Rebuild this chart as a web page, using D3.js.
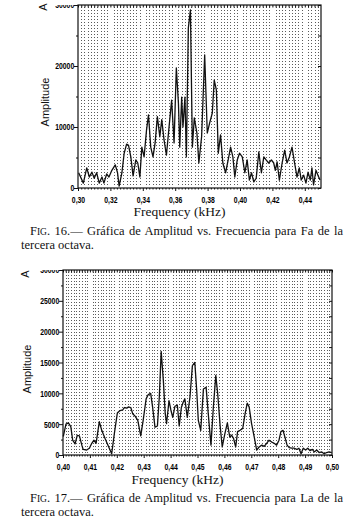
<!DOCTYPE html>
<html>
<head>
<meta charset="utf-8">
<script src="https://cdn.jsdelivr.net/npm/d3@7"></script>
<style>
  body { margin: 0; background: #fff; }
  svg { display: block; }
</style>
</head>
<body>
<svg id="page" width="351" height="521"></svg>
<script>
// Fig. 16 - Fa, tercera octava (frequency in kHz, amplitude)
var faFreq = [0.3004, 0.3033, 0.3054, 0.3070, 0.3086, 0.3100, 0.3115, 0.3131, 0.3148, 0.3160,
  0.3177, 0.3191, 0.3209, 0.3230, 0.3244, 0.3254, 0.3271, 0.3285, 0.3300, 0.3312,
  0.3326, 0.3340, 0.3357, 0.3369, 0.3382, 0.3394, 0.3408, 0.3423, 0.3435, 0.3449,
  0.3463, 0.3476, 0.3490, 0.3505, 0.3517, 0.3531, 0.3546, 0.3562, 0.3578, 0.3593,
  0.3607, 0.3620, 0.3628, 0.3640, 0.3648, 0.3660, 0.3669, 0.3681, 0.3694, 0.3706,
  0.3718, 0.3734, 0.3746, 0.3763, 0.3782, 0.3798, 0.3812, 0.3829, 0.3841, 0.3854,
  0.3866, 0.3880, 0.3894, 0.3911, 0.3927, 0.3942, 0.3956, 0.3968, 0.3983, 0.3997,
  0.4014, 0.4030, 0.4044, 0.4058, 0.4071, 0.4085, 0.4100, 0.4116, 0.4132, 0.4147,
  0.4161, 0.4177, 0.4194, 0.4208, 0.4218, 0.4229, 0.4243, 0.4260, 0.4276, 0.4290,
  0.4305, 0.4321, 0.4337, 0.4352, 0.4366, 0.4378, 0.4393, 0.4407, 0.4420, 0.4434,
  0.4444, 0.4454, 0.4469, 0.4481, 0.4494];
var faAmp = [2500, 800, 3300, 1800, 2600, 1600, 2500, 800, 1800, 800,
  2300, 1800, 2900, 3800, 2500, 300, 2500, 5700, 7200, 7000,
  5100, 2000, 4600, 4100, 1800, 6700, 5100, 9500, 12000, 6700,
  5100, 7400, 11700, 8400, 11200, 7900, 5400, 10000, 14400, 7400,
  19700, 13900, 6700, 14900, 10000, 14900, 5100, 26200, 29200, 6700,
  11500, 9000, 4100, 8400, 21800, 9000, 10600, 12300, 17700, 16100,
  5700, 8700, 4100, 2500, 4600, 6700, 5100, 1800, 4600, 5700,
  5100, 2500, 4600, 1300, 2500, 1000, 1600, 5900, 2500, 5100,
  4600, 4100, 4600, 4100, 2900, 4300, 1300, 4100, 6200, 4100,
  5100, 6700, 4100, 1800, 3300, 1300, 2100, 800, 2600, 1300,
  3300, 500, 2900, 2100, 1300];
var faXTicks = [0.30, 0.32, 0.34, 0.36, 0.38, 0.40, 0.42, 0.44];
var faYTicks = [0, 10000, 20000, 30000];
var faYMinor = [5000, 15000, 25000];

// Fig. 17 - La, tercera octava
var laFreq = [0.4001, 0.4011, 0.4020, 0.4029, 0.4036, 0.4045, 0.4053, 0.4061, 0.4070, 0.4075,
  0.4088, 0.4098, 0.4107, 0.4115, 0.4123, 0.4135, 0.4144, 0.4156, 0.4168, 0.4181,
  0.4191, 0.4202, 0.4212, 0.4222, 0.4228, 0.4237, 0.4243, 0.4252, 0.4259, 0.4268,
  0.4278, 0.4289, 0.4298, 0.4309, 0.4317, 0.4326, 0.4333, 0.4342, 0.4351, 0.4358,
  0.4365, 0.4373, 0.4380, 0.4385, 0.4394, 0.4401, 0.4408, 0.4416, 0.4425, 0.4432,
  0.4440, 0.4447, 0.4453, 0.4462, 0.4472, 0.4481, 0.4490, 0.4497, 0.4503, 0.4512,
  0.4522, 0.4532, 0.4540, 0.4550, 0.4559, 0.4568, 0.4575, 0.4584, 0.4592, 0.4602,
  0.4611, 0.4620, 0.4627, 0.4634, 0.4642, 0.4649, 0.4658, 0.4668, 0.4677, 0.4685,
  0.4692, 0.4701, 0.4711, 0.4720, 0.4729, 0.4739, 0.4748, 0.4757, 0.4766, 0.4776,
  0.4785, 0.4794, 0.4803, 0.4810, 0.4818, 0.4825, 0.4833, 0.4841, 0.4850, 0.4860,
  0.4869, 0.4877, 0.4885, 0.4893, 0.4902, 0.4910, 0.4918, 0.4927, 0.4934, 0.4943,
  0.4952, 0.4962, 0.4971, 0.4980, 0.4989, 0.4999];
var laAmp = [3000, 5000, 5200, 4600, 2400, 1800, 3200, 3100, 1600, 900,
  800, 1100, 1900, 2400, 1900, 5400, 4000, 2700, 1500, 200,
  3500, 6800, 7200, 7300, 7700, 7600, 7800, 7700, 6700, 6300,
  5600, 3100, 5600, 9100, 9800, 10000, 7800, 4500, 4700, 9400,
  16800, 12100, 6700, 5100, 8800, 7300, 6100, 7900, 8100, 4700,
  7700, 8600, 9100, 6100, 9400, 14500, 15000, 10500, 5600, 4000,
  10700, 11000, 6700, 1600, 7800, 12900, 10000, 4800, 1300, 3500,
  5200, 2900, 3200, 2700, 1300, 3800, 4000, 4300, 6700, 8400,
  7800, 5100, 2900, 800, 1300, 1600, 1400, 1900, 2400, 2100,
  1900, 1600, 2400, 3800, 4000, 2900, 1600, 1200, 1100, 1100,
  900, 1100, 200, 1100, 800, 1100, 700, 900, 500, 800,
  400, 500, 200, 400, 500, 400];
var laXTicks = [0.40, 0.41, 0.42, 0.43, 0.44, 0.45, 0.46, 0.47, 0.48, 0.49, 0.50];
var laYTicks = [0, 5000, 10000, 15000, 20000, 25000, 30000];
var laYMinor = [2500, 7500, 12500, 17500, 22500, 27500];

var xTitle = "Frequency (kHz)";
var yTitle = "Amplitude";
var captions = [
  ["16", "Gráfica de Amplitud vs. Frecuencia para Fa de la", "tercera octava."],
  ["17", "Gráfica de Amplitud vs. Frecuencia para La de la", "tercera octava."]
];

var tickFont = "'Liberation Sans', Arial, sans-serif";
var serifFont = "'Liberation Serif', 'DejaVu Serif', serif";
var sansFont = "'Liberation Sans', Arial, sans-serif";

function fmtComma(d) {
  return d3.format(".2f")(d).replace(".", ",");
}

/**
 * Draws one spectrum panel: dotted grid, framed axes, the line and its texts.
 */
function drawSpectrum(svg, cfg, idx)
{
  var x = d3.scaleLinear().domain(cfg.xDomain).range([cfg.left, cfg.right]);
  var y = d3.scaleLinear().domain([0, 30000]).range([cfg.bottom, cfg.top]);
  var g = svg.append("g");

  /** dotted background grid, no column on a labelled tick */
  var cols = d3.range(cfg.xDomain[0] + cfg.gridStep, cfg.xDomain[1] - 1e-9, cfg.gridStep)
    .filter(function(v) {
      return !cfg.xTicks.some(function(t) { return Math.abs(t - v) < cfg.gridStep / 2; });
    });
  g.append("g")
    .selectAll("line")
    .data(cols)
    .join("line")
    .attr("x1", function(d) { return Math.round(x(d)) + 0.5; })
    .attr("x2", function(d) { return Math.round(x(d)) + 0.5; })
    .attr("y1", cfg.top + 2)
    .attr("y2", cfg.bottom - 1)
    .attr("stroke", "#5a5a5a")
    .attr("stroke-width", 1)
    .attr("stroke-dasharray", "1,2");

  /** spectrum line */
  var line = d3.line()
    .x(function(d) { return x(d[0]); })
    .y(function(d) { return y(d[1]); });
  g.append("path")
    .datum(d3.zip(cfg.freq, cfg.amp))
    .attr("d", line)
    .attr("fill", "none")
    .attr("stroke", "#111")
    .attr("stroke-width", 1.3)
    .attr("stroke-linejoin", "round");

  /** frame */
  g.append("rect")
    .attr("x", cfg.left)
    .attr("y", cfg.top)
    .attr("width", cfg.right - cfg.left)
    .attr("height", cfg.bottom - cfg.top)
    .attr("fill", "none")
    .attr("stroke", "#111")
    .attr("stroke-width", 1.2);

  /** bottom axis */
  var bottom = g.append("g")
    .attr("transform", "translate(0," + cfg.bottom + ")")
    .call(d3.axisBottom(x).tickValues(cfg.xTicks).tickFormat(fmtComma).tickSize(3).tickPadding(4));
  bottom.append("g")
    .call(d3.axisBottom(x).tickValues(cols).tickFormat("").tickSize(1.5));
  /** top edge, tiny inward ticks */
  g.append("g")
    .attr("transform", "translate(0," + cfg.top + ")")
    .call(d3.axisBottom(x).tickValues(cols.concat(cfg.xTicks)).tickFormat("").tickSize(2.5));

  /** left axis */
  var left = g.append("g")
    .attr("transform", "translate(" + cfg.left + ",0)")
    .call(d3.axisLeft(y).tickValues(cfg.yTicks).tickFormat(d3.format("d")).tickSize(4).tickPadding(1));
  left.append("g")
    .call(d3.axisLeft(y).tickValues(cfg.yMinor).tickFormat("").tickSize(2));
  /** right edge ticks */
  g.append("g")
    .attr("transform", "translate(" + cfg.right + ",0)")
    .call(d3.axisLeft(y).tickValues(cfg.yTicks.concat(cfg.yMinor)).tickFormat("").tickSize(3));

  g.selectAll(".domain").remove();
  g.selectAll(".tick line").attr("stroke", "#111");
  /** narrow bold digits, squeezed horizontally */
  g.selectAll(".tick text")
    .attr("fill", "#000")
    .style("font-family", tickFont)
    .style("font-weight", "bold")
    .style("font-size", "9px")
    .attr("transform", "scale(0.76,1)");
  bottom.selectAll(".tick text").attr("dy", "0.9em");

  /** top label is cut by the page crop */
  var clipId = "clip" + idx;
  svg.append("clipPath").attr("id", clipId)
    .append("rect")
    .attr("x", -400).attr("y", -0.5)
    .attr("width", 800).attr("height", 40);
  left.selectAll(".tick")
    .filter(function(d) { return d === 30000; })
    .select("text")
    .attr("clip-path", "url(#" + clipId + ")");

  /** axis titles */
  g.append("text")
    .attr("x", (cfg.left + cfg.right) / 2 - 20)
    .attr("y", cfg.xTitleY)
    .attr("text-anchor", "middle")
    .style("font-family", serifFont)
    .style("font-size", "13.5px")
    .attr("fill", "#111")
    .text(xTitle);
  g.append("text")
    .attr("transform", "translate(" + cfg.yTitleX + "," + cfg.yTitleY + ") rotate(-90)")
    .attr("text-anchor", "middle")
    .attr("dy", "0.35em")
    .style("font-family", sansFont)
    .style("font-size", "11px")
    .attr("fill", "#111")
    .text(yTitle);
  g.append("text")
    .attr("transform", "translate(" + cfg.aX + "," + cfg.aY + ") rotate(-90)")
    .attr("text-anchor", "middle")
    .attr("dy", "0.35em")
    .style("font-family", sansFont)
    .style("font-size", "11px")
    .attr("fill", "#111")
    .text("A");

  /** caption, first line justified */
  var cap = captions[idx];
  var t1 = g.append("text")
    .attr("x", 30)
    .attr("y", cfg.capY)
    .style("font-family", serifFont)
    .style("font-size", "12.5px")
    .attr("fill", "#111");
  t1.append("tspan").text("F");
  t1.append("tspan").style("font-size", "9.5px").text("IG");
  t1.append("tspan").text(". " + cap[0] + ".— " + cap[1]);
  var natural = t1.node().getComputedTextLength();
  var spaces = (". " + cap[0] + ".— " + cap[1]).split(" ").length - 1;
  t1.style("word-spacing", Math.max(0, (343 - 30 - natural) / spaces) + "px");
  g.append("text")
    .attr("x", 21)
    .attr("y", cfg.capY + 14)
    .style("font-family", serifFont)
    .style("font-size", "12.5px")
    .attr("fill", "#111")
    .text(cap[2]);
}

var svg = d3.select("#page");

drawSpectrum(svg, {
  freq: faFreq, amp: faAmp,
  xDomain: [0.30, 0.45], xTicks: faXTicks, gridStep: 0.002,
  yTicks: faYTicks, yMinor: faYMinor,
  left: 78, right: 321, top: 5, bottom: 188,
  xTitleY: 216, yTitleX: 45, yTitleY: 102, aX: 43, aY: 7,
  capY: 235
}, 0);

drawSpectrum(svg, {
  freq: laFreq, amp: laAmp,
  xDomain: [0.40, 0.50], xTicks: laXTicks, gridStep: 0.001,
  yTicks: laYTicks, yMinor: laYMinor,
  left: 63, right: 332, top: 270, bottom: 455,
  xTitleY: 484, yTitleX: 27, yTitleY: 369, aX: 25, aY: 274,
  capY: 502
}, 1);
</script>
</body>
</html>
